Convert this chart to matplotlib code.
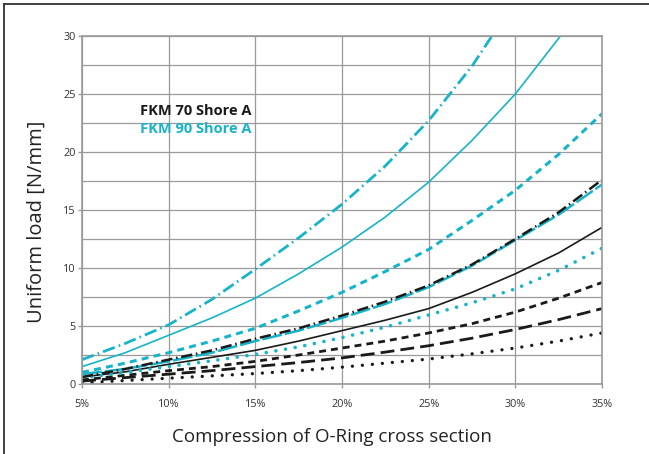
import matplotlib
matplotlib.use("Agg")
import matplotlib.pyplot as plt
from matplotlib.lines import Line2D

plt.rcParams['font.family'] = ['Open Sans', 'DejaVu Sans']

# compression (%) readings, every 2.5 %
x_full = [5, 7.5, 10, 12.5, 15, 17.5, 20, 22.5, 25, 27.5, 30, 32.5, 35]

# FKM 90 Shore A (cyan)
c_dashdot_x = [5, 7.5, 10, 12.5, 15, 17.5, 20, 22.5, 25, 27.5, 28.65]
c_dashdot_y = [2.1, 3.5, 5.1, 7.3, 9.9, 12.6, 15.5, 18.8, 22.7, 27.4, 30.0]
c_solid_x = [5, 7.5, 10, 12.5, 15, 17.5, 20, 22.5, 25, 27.5, 30, 32.5, 32.6]
c_solid_y = [1.5, 2.7, 4.2, 5.7, 7.4, 9.5, 11.8, 14.4, 17.4, 21.0, 25.0, 29.8, 30.0]
c_dashed_y = [1.0, 1.8, 2.7, 3.7, 4.8, 6.3, 7.9, 9.7, 11.6, 14.1, 16.7, 19.8, 23.3]
c_longdash_y = [0.85, 1.3, 1.95, 2.7, 3.7, 4.6, 5.7, 6.9, 8.35, 10.2, 12.4, 14.6, 17.2]
c_dotted_y = [0.55, 1.0, 1.5, 2.0, 2.55, 3.2, 4.0, 4.9, 5.95, 7.0, 8.2, 9.8, 11.7]

# FKM 70 Shore A (black)
k_dashdot_y = [0.6, 1.3, 2.1, 2.9, 3.9, 4.8, 5.9, 7.1, 8.5, 10.3, 12.5, 14.8, 17.6]
k_solid_y = [0.6, 1.05, 1.7, 2.3, 2.9, 3.7, 4.6, 5.5, 6.5, 7.9, 9.5, 11.3, 13.5]
k_dashed_y = [0.35, 0.75, 1.15, 1.5, 1.95, 2.5, 3.1, 3.7, 4.4, 5.2, 6.2, 7.4, 8.75]
k_longdash_y = [0.25, 0.55, 0.85, 1.15, 1.5, 1.85, 2.25, 2.75, 3.3, 3.95, 4.7, 5.55, 6.5]
k_dotted_y = [0.1, 0.3, 0.5, 0.7, 0.9, 1.15, 1.45, 1.8, 2.15, 2.6, 3.1, 3.7, 4.4]

x_ticks = [5, 10, 15, 20, 25, 30, 35]
x_ticklabels = ['5%', '10%', '15%', '20%', '25%', '30%', '35%']
y_ticks = [0, 5, 10, 15, 20, 25, 30]

CYAN = '#17b4c9'
BLACK = '#1a1a1a'
GRID = '#9a9a9a'

fig = plt.figure(figsize=(6.49, 4.54), dpi=100)
ax = fig.add_axes([82 / 649, 70 / 454, 520 / 649, 348 / 454])

# grid every 2.5 on y, every 5 % on x
for gx in x_ticks:
    ax.axvline(gx, color=GRID, lw=0.9, zorder=0)
for i in range(13):
    ax.axhline(i * 2.5, color=GRID, lw=0.9, zorder=0)

kw = dict(solid_capstyle='butt')
ax.plot(x_full, k_dotted_y, color=BLACK, lw=2.4, linestyle=(0, (0.01, 3.0)),
        dash_capstyle='round')
ax.plot(x_full, k_longdash_y, color=BLACK, lw=2.0, linestyle=(0, (5, 2.2)))
ax.plot(x_full, k_dashed_y, color=BLACK, lw=2.0, linestyle=(0, (2.5, 1.8)))
ax.plot(x_full, k_solid_y, color=BLACK, lw=1.2, **kw)
ax.plot(x_full, c_dotted_y, color=CYAN, lw=2.6, linestyle=(0, (0.01, 2.7)),
        dash_capstyle='round')
ax.plot(x_full, c_longdash_y, color=CYAN, lw=1.8, linestyle=(0, (8, 1.2)))
ax.plot(x_full, k_dashdot_y, color=BLACK, lw=1.8, linestyle=(0, (4.5, 1.5, 0.6, 1.5)))
ax.plot(x_full, c_dashed_y, color=CYAN, lw=2.2, linestyle=(0, (2.3, 1.7)))
ax.plot(c_solid_x, c_solid_y, color=CYAN, lw=1.2, **kw)
ax.plot(c_dashdot_x, c_dashdot_y, color=CYAN, lw=2.0, linestyle=(0, (4.5, 1.5, 0.6, 1.5)))

ax.set_xlim(5, 35)
ax.set_ylim(0, 30)
ax.set_xticks(x_ticks)
ax.set_xticklabels(x_ticklabels)
ax.set_yticks(y_ticks)
for s in ax.spines.values():
    s.set_color(GRID)
    s.set_linewidth(1.2)
ax.tick_params(axis='both', colors=GRID, length=3, width=1.0, labelsize=7.8,
               labelcolor='#333333')
ax.tick_params(axis='x', pad=8)
ax.tick_params(axis='y', pad=1.5)

ax.set_xlabel('Compression of O-Ring cross section', fontsize=13.5, color='#222222')
ax.set_ylabel('Uniform load [N/mm]', fontsize=14.5, color='#222222')
ax.xaxis.set_label_coords(0.481, -0.125)
ax.yaxis.set_label_coords(-0.068, 0.466)

ax.text(0.112, 0.772, 'FKM 70 Shore A', transform=ax.transAxes, fontsize=10.5,
        fontweight='bold', color=BLACK)
ax.text(0.112, 0.72, 'FKM 90 Shore A', transform=ax.transAxes, fontsize=10.5,
        fontweight='bold', color=CYAN)

# outer frame on top and left
fig.add_artist(Line2D([4 / 649, 1.0], [1 - 4 / 454, 1 - 4 / 454], color='#333333',
                      lw=1.3, transform=fig.transFigure))
fig.add_artist(Line2D([4 / 649, 4 / 649], [0, 1 - 4 / 454], color='#333333',
                      lw=1.3, transform=fig.transFigure))

fig.savefig('out.png', dpi=100)
